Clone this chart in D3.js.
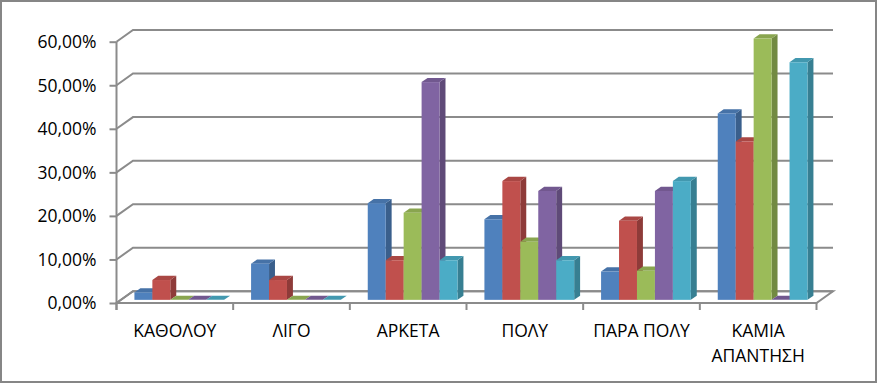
<!DOCTYPE html>
<html><head><meta charset="utf-8">
<script src="https://cdn.jsdelivr.net/npm/d3@7"></script>
<style>html,body{margin:0;padding:0;background:#fff;}svg{display:block;}</style>
</head><body>
<svg id="chart" width="878" height="385"></svg>
<script>
const categories = ["ΚΑΘΟΛΟΥ", "ΛΙΓΟ", "ΑΡΚΕΤΑ", "ΠΟΛΥ", "ΠΑΡΑ ΠΟΛΥ", "ΚΑΜΙΑ ΑΠΑΝΤΗΣΗ"];
const seriesNames = ["Σειρά 1", "Σειρά 2", "Σειρά 3", "Σειρά 4", "Σειρά 5"];
const series1 = [0.017, 0.083, 0.222, 0.185, 0.065, 0.428];
const series2 = [0.0455, 0.0455, 0.0909, 0.2727, 0.1818, 0.3636];
const series3 = [0, 0, 0.20, 0.1333, 0.0667, 0.60];
const series4 = [0, 0, 0.50, 0.25, 0.25, 0];
const series5 = [0, 0, 0.0909, 0.0909, 0.2727, 0.5455];
const yTicks = [0, 0.1, 0.2, 0.3, 0.4, 0.5, 0.6];
const colors = ["#4F81BD", "#C0504D", "#9BBB59", "#8064A2", "#4BACC6"];

const allSeries = [series1, series2, series3, series4, series5];
const svg = d3.select("#chart");
const FONT = "Open Sans";
const FS = 17.5;

// geometry
const x = d3.scaleBand().domain(categories).range([116.5, 816.5]).paddingInner(0).paddingOuter(0);
const xs = d3.scaleBand().domain(seriesNames).range([0, x.bandwidth()]).paddingInner(0).paddingOuter(0.75);
const y = d3.scaleLinear().domain([0, 0.6]).range([303, 41.7]);
const DX = 16.5, DY = -11.7;       // full depth of the plot box
const t0 = 0.27, t1 = 0.63;        // bar depth range
const gridColor = "#8b8b8b";

// outer border
svg.append("rect").attr("x", 1).attr("y", 1).attr("width", 875).attr("height", 381)
  .attr("fill", "#fff").attr("stroke", "#868686").attr("stroke-width", 2);

const x0 = x.range()[0], x1 = x.range()[1];

// floor
svg.append("path")
  .attr("d", `M${x0},${y(0)}L${x1},${y(0)}L${x1+DX},${y(0)+DY}L${x0+DX},${y(0)+DY}Z`)
  .attr("fill", "#fff").attr("stroke", gridColor).attr("stroke-width", 2);

// gridlines: diagonal on left wall + horizontal on back wall
const grid = svg.append("g").attr("fill", "none").attr("stroke", gridColor).attr("stroke-width", 2);
yTicks.forEach(v => {
  const yy = y(v);
  grid.append("path").attr("d", `M${x0},${yy}L${x0+DX},${yy+DY}L${x1+DX},${yy+DY}`);
});

// vertical axis
const yAxis = d3.axisLeft(y).tickValues(yTicks).tickSize(7).tickPadding(13)
  .tickFormat(d => d3.format(".2f")(d*100).replace(".", ",") + "%");
const yg = svg.append("g").attr("transform", `translate(${x0},0)`).call(yAxis);
yg.select(".domain").remove();
yg.selectAll(".tick line").attr("stroke", gridColor).attr("stroke-width", 2);
yg.selectAll(".tick text").attr("font-family", FONT).attr("font-size", FS).attr("fill", "#000").attr("dy", "0.34em");
svg.append("line").attr("x1", x0).attr("x2", x0).attr("y1", y(0.6)).attr("y2", y(0)+7)
  .attr("stroke", gridColor).attr("stroke-width", 2);

// category axis
const xAxis = d3.axisBottom(x).tickSize(0).tickPadding(0);
const xg = svg.append("g").attr("transform", `translate(0,${y(0)})`).call(xAxis);
xg.select(".domain").remove();
xg.selectAll(".tick text").remove();
const bounds = categories.map(c => x(c)).concat([x1]);
bounds.forEach(b => {
  svg.append("line").attr("x1", b).attr("x2", b).attr("y1", y(0)).attr("y2", y(0)+7)
    .attr("stroke", gridColor).attr("stroke-width", 2);
});
categories.forEach(c => {
  const words = c === "ΚΑΜΙΑ ΑΠΑΝΤΗΣΗ" ? ["ΚΑΜΙΑ", "ΑΠΑΝΤΗΣΗ"] : [c];
  const t = svg.append("text").attr("x", x(c) + x.bandwidth()/2).attr("y", 337)
    .attr("text-anchor", "middle").attr("font-family", FONT).attr("font-size", FS).attr("fill", "#000");
  words.forEach((w, i) => t.append("tspan").attr("x", x(c) + x.bandwidth()/2).attr("dy", i ? 25 : 0).text(w));
});

// bars
const ox = DX*t0, oy = DY*t0;
const ddx = DX*(t1-t0), ddy = DY*(t1-t0);
const bars = svg.append("g");
categories.forEach((c, ci) => {
  seriesNames.forEach((s, si) => {
    const v = allSeries[si][ci];
    const col = d3.color(colors[si]);
    const side = col.darker(0.85).formatHex();
    const top = col.darker(0.35).formatHex();
    const L = x(c) + xs(s) + ox, R = L + xs.bandwidth();
    const B = y(0) + oy, T = y(v) + oy;
    const g = bars.append("g");
    g.append("path").attr("d", `M${R},${B}L${R+ddx},${B+ddy}L${R+ddx},${T+ddy}L${R},${T}Z`).attr("fill", side);
    g.append("path").attr("d", `M${L},${T}L${R},${T}L${R+ddx},${T+ddy}L${L+ddx},${T+ddy}Z`).attr("fill", top);
    if (B - T > 0.01) {
      g.append("rect").attr("x", L).attr("y", T).attr("width", R - L).attr("height", B - T).attr("fill", colors[si]);
    }
  });
});
</script>
</body></html>
